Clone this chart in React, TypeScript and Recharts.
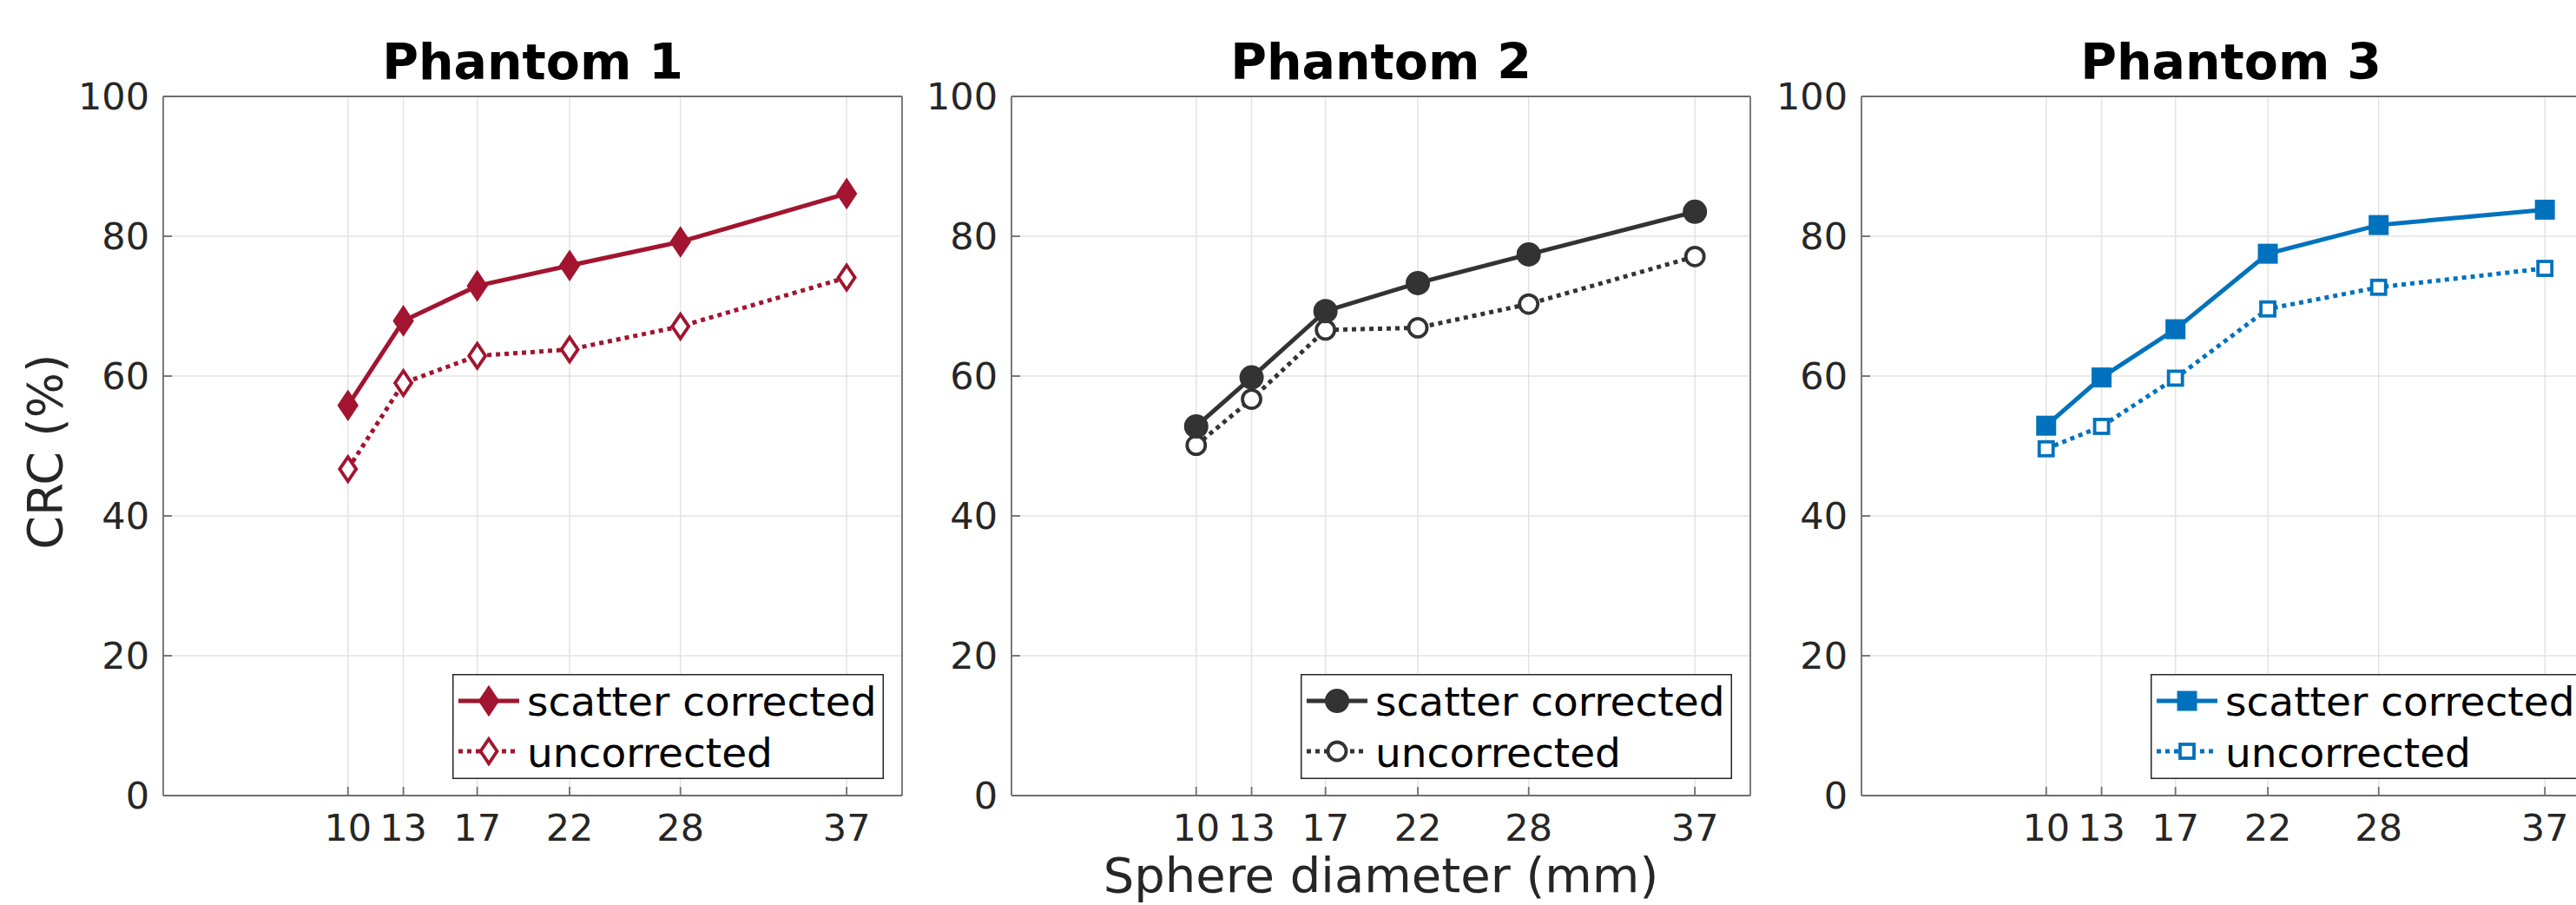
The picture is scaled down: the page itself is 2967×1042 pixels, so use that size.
import { CartesianGrid, Label, Legend, Line, LineChart, XAxis, YAxis } from "recharts";

// Sphere diameters (mm) and CRC (%)
const DIAMETERS = [10, 13, 17, 22, 28, 37];
const Y_TICKS = [0, 20, 40, 60, 80, 100];

const P1_CORRECTED = [55.8, 67.9, 72.9, 75.8, 79.2, 86.1];
const P1_UNCORRECTED = [46.7, 59.0, 62.9, 63.8, 67.1, 74.1];
const P2_CORRECTED = [52.8, 59.8, 69.3, 73.3, 77.4, 83.5];
const P2_UNCORRECTED = [50.1, 56.7, 66.6, 66.9, 70.3, 77.1];
const P3_CORRECTED = [52.9, 59.8, 66.7, 77.5, 81.6, 83.8];
const P3_UNCORRECTED = [49.6, 52.8, 59.7, 69.6, 72.7, 75.4];

const TITLES = ["Phantom 1", "Phantom 2", "Phantom 3"];
const LEGEND_LABELS = ["scatter corrected", "uncorrected"];
const X_LABEL = "Sphere diameter (mm)";
const Y_LABEL = "CRC (%)";

type Shape = "diamond" | "circle" | "square";

const PANELS: {
  title: string;
  color: string;
  shape: Shape;
  corrected: number[];
  uncorrected: number[];
}[] = [
  { title: TITLES[0], color: "#A2142F", shape: "diamond", corrected: P1_CORRECTED, uncorrected: P1_UNCORRECTED },
  { title: TITLES[1], color: "#333333", shape: "circle", corrected: P2_CORRECTED, uncorrected: P2_UNCORRECTED },
  { title: TITLES[2], color: "#0072BD", shape: "square", corrected: P3_CORRECTED, uncorrected: P3_UNCORRECTED },
];

const FONT = '"DejaVu Sans", Verdana, sans-serif';
const INK = "#262626";
const BOX = "#6e6e6e";
const GRID = "#e3e3e3";
const LW = 5;
const DOTS = "5 5";

const PLOT_LEFTS = [188, 1165, 2144];
const CHART_W = 1059;
const CHART_H = 1042;
// plot area: x 188..1039, y 111..916 inside each chart
const MARGIN = { top: 110, right: 19, bottom: 66, left: 88 };

function Marker({
  shape,
  filled,
  color,
  cx,
  cy,
}: {
  shape: Shape;
  filled: boolean;
  color: string;
  cx: number;
  cy: number;
}) {
  if (cx == null || cy == null) return null;
  const fill = filled ? color : "#ffffff";
  const sw = filled ? 2 : 3.8;
  if (shape === "diamond") {
    const hw = filled ? 11 : 9.5;
    const hh = filled ? 16.5 : 14;
    return (
      <polygon
        points={`${cx},${cy - hh} ${cx + hw},${cy} ${cx},${cy + hh} ${cx - hw},${cy}`}
        fill={fill}
        stroke={color}
        strokeWidth={sw}
      />
    );
  }
  if (shape === "circle") {
    return <circle cx={cx} cy={cy} r={filled ? 13 : 10.5} fill={fill} stroke={color} strokeWidth={sw} />;
  }
  const s = filled ? 21 : 16;
  return <rect x={cx - s / 2} y={cy - s / 2} width={s} height={s} fill={fill} stroke={color} strokeWidth={sw} />;
}

function LegendBox({ color, shape }: { color: string; shape: Shape }) {
  const rows = [
    { label: LEGEND_LABELS[0], filled: true, dash: undefined as string | undefined, my: 31, ty: 48 },
    { label: LEGEND_LABELS[1], filled: false, dash: DOTS, my: 89, ty: 107 },
  ];
  return (
    <svg width={497} height={121} style={{ display: "block" }}>
      <rect x={0.75} y={0.75} width={495.5} height={119.5} fill="#ffffff" stroke={INK} strokeWidth={1.5} />
      {rows.map((r) => (
        <g key={r.label}>
          <line x1={7} x2={77} y1={r.my} y2={r.my} stroke={color} strokeWidth={LW} strokeDasharray={r.dash} />
          <Marker shape={shape} filled={r.filled} color={color} cx={42} cy={r.my} />
          <text x={86} y={r.ty} fontFamily={FONT} fontSize={47} fill="#000000">
            {r.label}
          </text>
        </g>
      ))}
    </svg>
  );
}

function Panel({ index }: { index: number }) {
  const p = PANELS[index];
  const data = DIAMETERS.map((d, i) => ({ d, corrected: p.corrected[i], uncorrected: p.uncorrected[i] }));
  const tickStyle = { fontSize: 43, fill: INK, fontFamily: FONT };
  const boxLine = { stroke: BOX, strokeWidth: 1.8 };

  return (
    <div style={{ position: "absolute", left: PLOT_LEFTS[index] - 188, top: 0 }}>
      <LineChart width={CHART_W} height={CHART_H} data={data} margin={MARGIN}>
        <CartesianGrid stroke={GRID} strokeWidth={1.5} />

        <XAxis
          dataKey="d"
          type="number"
          domain={[0, 40]}
          ticks={DIAMETERS}
          interval={0}
          height={60}
          tick={tickStyle}
          tickSize={-10}
          tickMargin={31}
          axisLine={boxLine}
          tickLine={boxLine}
        >
          {index === 1 && (
            <Label value={X_LABEL} position="bottom" offset={11} fontSize={56} fill={INK} fontFamily={FONT} />
          )}
        </XAxis>
        <XAxis
          xAxisId="top"
          orientation="top"
          dataKey="d"
          type="number"
          domain={[0, 40]}
          ticks={DIAMETERS}
          interval={0}
          height={1}
          tick={false}
          tickSize={-10}
          axisLine={boxLine}
          tickLine={boxLine}
        />

        <YAxis
          type="number"
          domain={[0, 100]}
          ticks={Y_TICKS}
          interval={0}
          width={100}
          tick={tickStyle}
          tickSize={-10}
          tickMargin={26}
          axisLine={boxLine}
          tickLine={boxLine}
        >
          <Label
            content={() => (
              <g>
                <text
                  x={613.5}
                  y={91}
                  textAnchor="middle"
                  fontFamily={FONT}
                  fontSize={57}
                  fontWeight="bold"
                  fill="#000000"
                >
                  {p.title}
                </text>
                {index === 0 && (
                  <text
                    transform="translate(71, 520) rotate(-90)"
                    textAnchor="middle"
                    fontFamily={FONT}
                    fontSize={55}
                    fill={INK}
                  >
                    {Y_LABEL}
                  </text>
                )}
              </g>
            )}
          />
        </YAxis>
        <YAxis
          yAxisId="right"
          orientation="right"
          type="number"
          domain={[0, 100]}
          ticks={Y_TICKS}
          interval={0}
          width={1}
          tick={false}
          tickSize={-10}
          axisLine={boxLine}
          tickLine={boxLine}
        />

        <Line
          dataKey="uncorrected"
          stroke={p.color}
          strokeWidth={LW}
          strokeDasharray={DOTS}
          dot={(d: any) => (
            <Marker key={`u${d.index}`} shape={p.shape} filled={false} color={p.color} cx={d.cx} cy={d.cy} />
          )}
          activeDot={false}
          isAnimationActive={false}
        />
        <Line
          dataKey="corrected"
          stroke={p.color}
          strokeWidth={LW}
          dot={(d: any) => (
            <Marker key={`c${d.index}`} shape={p.shape} filled color={p.color} cx={d.cx} cy={d.cy} />
          )}
          activeDot={false}
          isAnimationActive={false}
        />

        <Legend
          layout="horizontal"
          verticalAlign="middle"
          align="center"
          wrapperStyle={{ left: 521, top: 776, width: 497, height: 121 }}
          content={() => <LegendBox color={p.color} shape={p.shape} />}
        />
      </LineChart>
    </div>
  );
}

export default function App() {
  return (
    <div
      style={{
        position: "absolute",
        left: 0,
        top: 0,
        width: 2967,
        height: 1042,
        overflow: "hidden",
        background: "#ffffff",
      }}
    >
      <Panel index={0} />
      <Panel index={1} />
      <Panel index={2} />
    </div>
  );
}
